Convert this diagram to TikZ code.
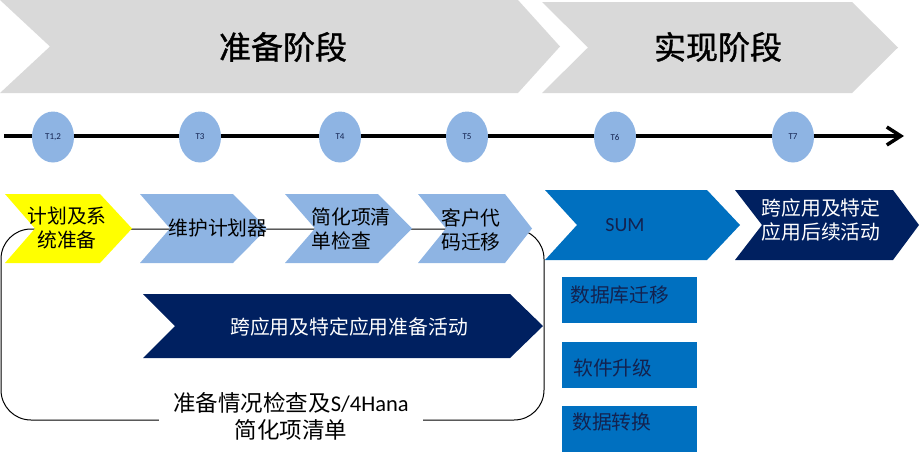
\documentclass[tikz,border=0pt]{standalone}
\usepackage{fontspec}
\setmainfont{Carlito}
\newfontfamily\cjk{Noto Sans CJK SC}
\newfontfamily\cjkheavy[FakeBold=1.2]{Noto Sans CJK SC}
\usetikzlibrary{arrows.meta,shapes.geometric}
\definecolor{phasegray}{HTML}{D9D9D9}
\definecolor{lblue}{HTML}{8EB4E3}
\definecolor{yel}{HTML}{FFFF00}
\definecolor{sumblue}{HTML}{0070C0}
\definecolor{navy}{HTML}{002060}
\definecolor{darktxt}{HTML}{13224F}
% #1 colour, #2 left x, #3 tip x, #4 top y, #5 bottom y, #6 tip depth, #7 notch depth
\newcommand{\mychev}[7]{%
  \fill[#1] (#2,#4) -- ({#3-#6},#4) -- (#3,{(#4+#5)/2}) -- ({#3-#6},#5) -- (#2,#5) -- ({#2+#7},{(#4+#5)/2}) -- cycle;}
\tikzset{
  phasetxt/.style={font=\cjkheavy\fontsize{32}{36}\selectfont, text=black, inner sep=0pt},
  steptxt/.style={font=\cjk\fontsize{19.8}{24}\selectfont, text=black, inner sep=0pt, align=center},
  whitetxt/.style={steptxt, text=white},
  tmark/.style={ellipse, fill=lblue, minimum width=42pt, minimum height=51pt, inner sep=0pt,
                font=\fontsize{9}{10}\selectfont, text=darktxt},
  subbox/.style={rectangle, fill=sumblue, minimum width=135pt, minimum height=46pt, inner sep=0pt},
  subtxt/.style={font=\cjk\fontsize{19.8}{24}\selectfont, text=darktxt, inner sep=0pt, anchor=west},
}
\begin{document}
\begin{tikzpicture}[x=1pt,y=-1pt]
\useasboundingbox (0,0) rectangle (921,459);
% phase chevrons
\mychev{phasegray}{0}{560}{0}{93}{42}{50}
\mychev{phasegray}{542}{898}{2}{93}{46}{46}
\node[phasetxt] (prep) at (283,47) {准备阶段};
\node[phasetxt] (impl) at (718,47) {实现阶段};
% timeline
\coordinate (tlstart) at (4,136);
\coordinate (tlend) at (904,136);
\draw[line width=3.5pt, -{Straight Barb[length=14pt,width=18pt,line width=3.5pt]}] (tlstart) -- (tlend);
\node[tmark] (t12) at (53,137) {T1,2};
\node[tmark] (t3) at (200,137) {T3};
\node[tmark] (t4) at (340,137) {T4};
\node[tmark] (t5) at (467,137) {T5};
\node[tmark] (t6) at (615,137) {T6};
\node[tmark] (t7) at (793,137) {T7};
% frame of preparation group
\node[draw=black, line width=1pt, rounded corners=30pt, minimum width=543pt, minimum height=191pt, inner sep=0pt] (frame) at (272.5,324.5) {};
% step chevrons
\mychev{yel}{5}{132}{194}{263}{32}{30}
\mychev{lblue}{140}{267}{194}{263}{34}{30}
\mychev{lblue}{285}{412}{194}{263}{34}{30}
\mychev{lblue}{418}{532}{194}{263}{27}{28}
\mychev{sumblue}{545}{740}{190}{260}{33}{32}
\mychev{navy}{735}{919}{190}{260}{26}{27}
\mychev{navy}{143}{543}{294}{358}{33}{32}
\node[steptxt] (s1) at (67,228) {计划及系\\统准备};
\node[steptxt] (s2) at (218,228) {维护计划器};
\node[steptxt, align=left] (s3) at (351,229) {简化项清\\单检查};
\node[steptxt] (s4) at (471,230) {客户代\\码迁移};
\node[font=\fontsize{20}{24}\selectfont, text=darktxt, inner sep=0pt] (sum) at (625,225) {SUM};
\node[whitetxt] (s6) at (821,220) {跨应用及特定\\应用后续活动};
\node[whitetxt] (s7) at (349,327) {跨应用及特定应用准备活动};
% frame label
\node[fill=white, inner xsep=14pt, inner ysep=4pt, align=center, font=\fontsize{22.5}{27}\selectfont] (framelbl) at (291,416.5) {{\cjk 准备情况检查及}S/4Hana\\{\cjk 简化项清单}};
% SUM sub-steps
\node[subbox] (b1) at (629.5,300) {};
\node[subbox] (b2) at (629.5,365) {};
\node[subbox] (b3) at (629.5,429) {};
\node[subtxt] (b1t) at (570,295) {数据库迁移};
\node[subtxt] (b2t) at (573,368) {软件升级};
\node[subtxt] (b3t) at (572,422) {数据转换};
\end{tikzpicture}
\end{document}
